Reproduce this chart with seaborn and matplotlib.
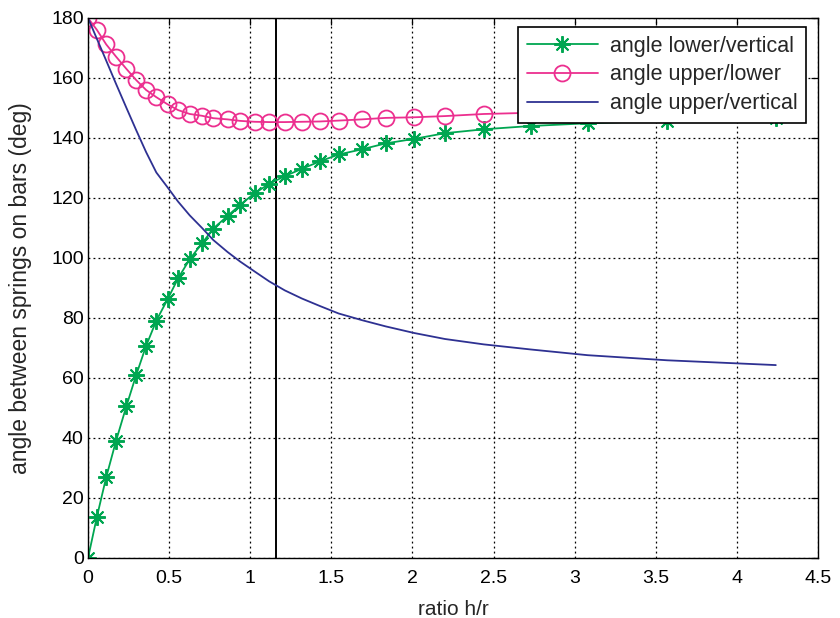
import matplotlib
matplotlib.use("Agg")
import matplotlib.pyplot as plt
import seaborn as sns
import pandas as pd

# ratio h/r at each computed configuration
ratio = [0.0, 0.055, 0.112, 0.173, 0.237, 0.297, 0.358, 0.421, 0.491, 0.555,
         0.627, 0.703, 0.772, 0.86, 0.938, 1.027, 1.117, 1.213, 1.318, 1.429,
         1.545, 1.687, 1.835, 2.01, 2.2, 2.44, 2.73, 3.08, 3.57, 4.24]

# angles (deg)
lower_vertical = [0.0, 13.8, 26.9, 39.1, 50.7, 61.0, 70.7, 79.1, 86.3, 93.2,
                  99.6, 104.9, 109.8, 114.0, 117.7, 121.6, 124.7, 127.3, 129.7, 132.2,
                  134.5, 136.2, 138.2, 139.7, 141.6, 142.9, 144.0, 144.9, 145.8, 146.8]
upper_lower = [180.0, 176.0, 171.2, 167.1, 163.0, 159.3, 156.0, 153.6, 151.2, 149.3,
               148.0, 147.4, 146.6, 146.2, 145.7, 145.4, 145.3, 145.3, 145.4, 145.5,
               145.8, 146.2, 146.7, 146.9, 147.3, 148.0, 148.4, 148.8, 149.1, 149.4]
upper_vertical = [180.0, 173.0, 165.8, 158.0, 150.0, 142.6, 135.3, 128.5, 123.5, 118.8,
                  114.2, 110.0, 106.0, 102.0, 98.8, 95.5, 92.2, 89.2, 86.5, 84.0,
                  81.5, 79.3, 77.2, 75.0, 73.0, 71.2, 69.5, 67.6, 65.9, 64.3]

series_labels = ["angle lower/vertical", "angle upper/lower", "angle upper/vertical"]
marked_ratio = 1.16

x_ticks = [0, 0.5, 1, 1.5, 2, 2.5, 3, 3.5, 4, 4.5]
x_tick_labels = ["0", "0.5", "1", "1.5", "2", "2.5", "3", "3.5", "4", "4.5"]
y_ticks = list(range(0, 181, 20))

df = pd.DataFrame({
    "ratio": ratio,
    "lower_vertical": lower_vertical,
    "upper_lower": upper_lower,
    "upper_vertical": upper_vertical,
})

sns.set_style("white")
plt.rcParams["font.family"] = ["Liberation Sans Narrow", "Liberation Sans", "DejaVu Sans"]
plt.rcParams["font.size"] = 14

fig = plt.figure(figsize=(8.4, 6.18), dpi=100)
ax = fig.add_axes([0.1048, 0.0971, 0.8690, 0.8738])

green = "#00a651"
pink = "#ec2f8f"
navy = "#2e3192"

sns.lineplot(data=df, x="ratio", y="lower_vertical", ax=ax, color=green,
             linewidth=1.3, marker=(8, 2, 0), markersize=12,
             markeredgewidth=1.4, markeredgecolor=green,
             label=series_labels[0], errorbar=None)
sns.lineplot(data=df, x="ratio", y="upper_lower", ax=ax, color=pink,
             linewidth=1.3, marker="o", markersize=11.5,
             markerfacecolor="none", markeredgewidth=1.3, markeredgecolor=pink,
             label=series_labels[1], errorbar=None)
sns.lineplot(data=df, x="ratio", y="upper_vertical", ax=ax, color=navy,
             linewidth=1.3, label=series_labels[2], errorbar=None)

ax.axvline(marked_ratio, color="black", linewidth=1.4, zorder=1)

ax.set_xlim(0, 4.5)
ax.set_ylim(0, 180)
ax.set_xticks(x_ticks)
ax.set_xticklabels(x_tick_labels)
ax.set_yticks(y_ticks)
ax.grid(True, color="black", linestyle=(0, (1.5, 2.5)), linewidth=0.9)
ax.set_axisbelow(True)
ax.tick_params(direction="in", length=5, width=0.9, top=True, right=True,
               labelsize=14, colors="black")
ax.tick_params(axis="x", pad=9)
ax.tick_params(axis="y", pad=3)
for s in ax.spines.values():
    s.set_color("black")
    s.set_linewidth(1.0)

ax.set_xlabel("ratio h/r", fontsize=15, labelpad=9)
ax.set_ylabel("angle between springs on bars (deg)", fontsize=16.5, labelpad=14)

leg = ax.legend(loc="upper right", bbox_to_anchor=(0.9836, 0.9833), frameon=True,
                fancybox=False, shadow=False, borderpad=0.4, labelspacing=0.36,
                handlelength=3.3, handletextpad=0.55, borderaxespad=0,
                numpoints=1, fontsize=15.5)
leg.get_frame().set_edgecolor("black")
leg.get_frame().set_linewidth(1.2)
leg.get_frame().set_facecolor("white")
leg.get_frame().set_alpha(1)
leg.set_zorder(10)

fig.savefig("out.png", dpi=100)
